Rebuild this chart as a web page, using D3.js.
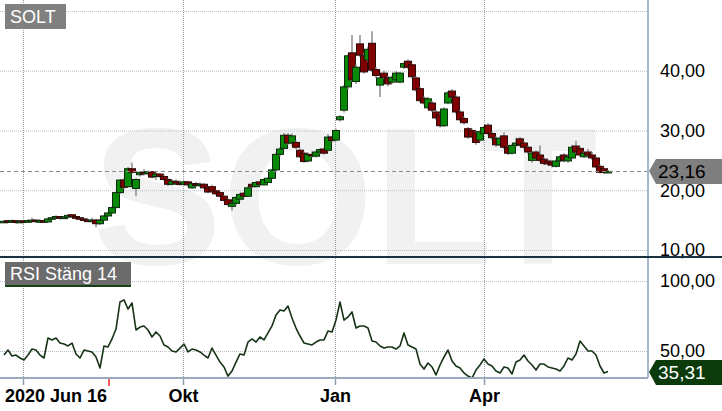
<!DOCTYPE html>
<html><head><meta charset="utf-8">
<script src="https://cdn.jsdelivr.net/npm/d3@7"></script>
<style>
html,body{margin:0;padding:0;background:#fff;}
svg{display:block;font-family:"Liberation Sans",Arial,sans-serif;}
</style></head><body>
<svg id="c" width="722" height="411"></svg>
<script>
// ---- data ----
const opens = [14.6,14.9,14.7,14.9,14.6,14.9,14.7,14.8,15.0,14.8,
14.9,14.7,15.2,15.4,15.6,15.3,15.5,15.9,15.6,15.4,
15.2,15.0,14.9,15.0,14.4,15.0,15.7,16.2,17.1,19.6,
21.7,20.6,23.6,20.3,22.6,23.0,22.8,23.1,22.3,22.7,
22.3,21.8,21.0,21.5,21.2,21.0,21.4,20.4,21.1,20.8,
21.0,20.4,20.6,19.9,19.6,19.0,18.4,17.3,17.8,18.5,
19.5,19.0,21.0,20.6,21.4,20.9,21.3,22.0,23.4,26.0,
27.0,29.2,27.9,28.0,26.7,26.2,24.9,26.0,25.7,26.4,
26.9,26.7,28.9,28.4,31.8,33.4,37.3,43.0,38.2,44.5,
42.5,41.8,44.6,40.2,37.6,39.6,38.8,38.1,38.5,38.1,
40.6,41.6,41.0,38.8,37.0,35.4,33.8,34.6,33.1,32.6,
30.8,34.6,36.6,35.6,33.1,32.0,30.3,30.0,29.6,28.4,
29.5,30.9,29.5,28.7,27.6,29.1,27.2,26.2,27.5,28.6,
27.9,27.2,25.0,26.4,25.9,25.2,24.9,24.7,24.0,24.9,
25.9,24.9,25.4,27.4,27.0,25.6,26.4,25.9,25.4,24.0,
23.6,22.9];
const highs = [15.0,15.0,15.1,15.0,15.0,15.0,15.1,15.4,15.1,15.1,
15.1,15.5,15.6,15.8,15.7,15.7,16.0,16.0,15.7,15.5,
15.4,15.2,15.4,15.2,15.2,15.9,16.3,17.3,19.8,21.9,
22.0,23.9,24.6,22.0,23.2,23.5,23.3,23.2,23.0,22.9,
22.6,22.0,21.8,21.8,21.6,21.6,21.6,21.2,21.4,21.3,
21.2,20.6,20.9,20.1,19.8,19.2,18.6,18.0,19.0,19.6,
19.7,20.7,21.3,21.5,21.6,22.0,22.2,23.6,26.3,27.2,
29.6,29.6,29.5,28.3,27.0,26.5,26.3,26.5,26.6,27.0,
27.1,29.4,29.0,30.3,32.6,37.6,42.8,46.0,41.0,46.0,
43.0,44.0,46.6,40.6,39.2,40.0,39.2,39.2,39.9,39.8,
41.5,41.9,41.2,39.1,37.3,35.7,35.6,35.0,33.4,32.9,
33.9,36.6,36.9,35.9,33.4,32.3,30.6,30.3,29.9,30.0,
30.8,31.2,29.8,29.0,29.0,29.7,27.5,27.8,28.8,28.9,
28.2,27.5,26.5,26.7,27.5,25.5,25.2,25.0,25.2,25.9,
26.2,25.9,27.6,28.3,27.3,26.5,26.9,26.4,25.7,24.3,
23.8,23.4];
const lows = [14.5,14.5,14.6,14.4,14.5,14.5,14.6,14.7,14.6,14.6,
14.5,14.6,15.0,15.2,15.1,15.2,15.4,15.4,15.1,15.0,
14.8,14.7,14.8,13.8,14.2,14.9,15.6,16.0,17.0,19.4,
20.2,20.5,22.8,19.0,22.3,22.5,22.5,22.0,21.7,22.0,
21.6,20.7,20.8,21.0,20.8,20.8,20.6,20.2,20.6,20.5,
20.2,19.5,19.6,19.2,18.9,18.1,17.4,16.6,17.5,18.3,
18.8,18.9,20.4,20.5,20.8,20.8,21.2,21.9,23.3,25.7,
26.8,27.6,27.6,26.9,25.4,24.6,24.7,25.5,25.5,26.1,
26.0,26.5,28.1,28.2,31.5,33.0,36.9,38.2,37.8,42.3,
39.5,41.5,39.8,38.8,35.6,38.6,37.4,37.8,38.2,37.9,
40.3,40.3,38.7,36.5,34.7,34.3,33.5,33.1,31.8,30.5,
30.6,34.4,35.3,32.8,31.5,31.0,28.6,28.7,27.6,28.1,
29.3,29.2,28.4,27.3,27.4,26.9,25.9,26.0,27.3,27.3,
26.9,26.1,24.6,25.1,24.7,24.2,24.1,23.8,23.8,24.7,
24.7,24.6,25.2,26.1,25.6,25.4,25.6,25.1,23.6,22.8,
22.7,22.8];
const closes = [14.8,14.7,14.9,14.6,14.8,14.7,14.9,15.0,14.8,14.9,
14.7,15.2,15.4,15.6,15.3,15.5,15.8,15.6,15.3,15.2,
15.0,14.9,15.0,14.4,15.0,15.7,16.2,17.1,19.6,21.7,
20.5,23.6,23.0,21.8,23.0,22.8,23.1,22.2,22.7,22.3,
21.8,21.0,21.5,21.2,21.0,21.4,20.9,21.1,20.8,21.0,
20.4,19.7,19.9,19.4,19.0,18.3,17.6,17.8,18.8,19.3,
19.0,20.4,20.6,21.3,21.0,21.8,22.0,23.4,26.0,26.9,
29.2,27.9,29.1,27.2,25.6,24.8,26.0,25.8,26.4,26.8,
26.2,28.9,28.3,30.0,32.3,37.3,42.5,38.5,40.6,42.6,
39.8,43.6,40.1,39.2,38.8,38.9,37.8,38.9,39.6,39.6,
41.2,40.6,39.0,36.8,35.0,34.6,35.3,33.4,32.1,30.8,
33.6,36.3,35.6,33.1,31.8,31.3,28.9,29.0,28.0,29.8,
30.5,29.5,28.8,27.6,28.7,27.2,26.2,27.5,27.9,27.6,
27.2,26.4,26.2,25.4,25.0,24.5,24.4,24.2,24.9,25.6,
25.0,25.6,27.2,26.4,25.9,26.2,25.9,25.4,23.9,23.0,
23.0,23.16];
const rsiValues = [47.1,50.7,46.4,47.1,45,43.6,47.1,51.4,50.7,47.1,
45,59.3,57.9,59.3,55.7,55,53.6,55.7,47.9,45,
50.7,50,49.3,45.7,37.9,53.6,52.9,58.6,65.7,85,
86.5,80,84.3,65,67.1,67.9,65,60,63.6,60.7,
54.3,52.9,50,49.3,52.1,55,49.3,51.4,50.7,49.3,
47.1,45,52.1,47.1,42.1,38.6,32.1,35.7,42.1,47.9,
47.1,56.4,58.6,56.4,60,57.9,62.9,67.9,75.7,79.3,
78.6,82.1,73.6,66.4,60.7,55.7,55,54.3,56.4,57.9,
57.9,64.3,63.6,72.1,85,72,74.3,77.9,66.4,67.9,
67.9,66.4,57.1,56.4,53.6,52.1,52.9,52.9,51.4,53.6,
62.9,54.3,52.9,51.4,40.7,37.1,41.4,38.6,32.9,40,
45.7,50.7,42.9,39.3,37.9,34.3,32.1,30.7,36.4,40,
44.3,40.7,39.3,35.7,34.3,38.6,37.9,33.6,42.1,43.6,
47.1,42.9,40,36.4,40.7,40.7,38.6,37.9,37.1,35.7,
39.3,45,43.6,47.9,57.1,53.6,50,50,47.1,39.3,
34.3,35.31];
const priceTicks = [10,20,30,40];
const priceGrid = [10,20,30,40,50];
const rsiTicks = [50,100];
const monthTickIndex = [4.75,44.75,82.75,120];
const monthLabels = ["","Okt","Jan","Apr"];
const startLabel = "2020 Jun 16";
const markerIndex = 26.25;
const symbol = "SOLT";
const rsiTitle = "RSI Stäng 14";
const lastPrice = 23.16;
const lastRsi = 35.31;

// ---- drawing ----
const svg = d3.select("#c");
const W = 722, plotR = 648, sepY = 257, axisY = 378;
const N = Math.min(opens.length, highs.length, lows.length, closes.length);
const x = d3.scaleLinear().domain([0, N-1]).range([4, 608]);
const yP = d3.scaleLinear().domain([10, 50]).range([250, 11]);
const yR = d3.scaleLinear().domain([50, 100]).range([351, 281]);
const loc = d3.formatLocale({decimal:",", thousands:" ", grouping:[3], currency:["",""]});
const fmt = loc.format(".2f");

// watermark
svg.append("text").attr("x",92).attr("y",264)
  .attr("font-size",195).attr("font-weight","bold").attr("fill","#f1f1f1")
  .text(symbol);

// horizontal gridlines
svg.append("g").selectAll("line").data(priceGrid).join("line")
  .attr("x1",0).attr("x2",plotR).attr("y1",d=>yP(d)+0.5).attr("y2",d=>yP(d)+0.5)
  .attr("stroke","#b7c0c8").attr("stroke-dasharray","1,1");
svg.append("g").selectAll("line").data(rsiTicks).join("line")
  .attr("x1",0).attr("x2",plotR).attr("y1",d=>yR(d)+0.5).attr("y2",d=>yR(d)+0.5)
  .attr("stroke","#b7c0c8").attr("stroke-dasharray","1,1");
// vertical gridlines
svg.append("g").selectAll("line").data(monthTickIndex).join("line")
  .attr("x1",d=>Math.round(x(d))+0.5).attr("x2",d=>Math.round(x(d))+0.5)
  .attr("y1",0).attr("y2",axisY)
  .attr("stroke","#8e9ba8").attr("stroke-dasharray","1,1");

// candles
const cg = svg.append("g");
for (let i=0;i<N;i++){
  const cx = x(i);
  const g = cg.append("g");
  g.append("line").attr("x1",cx).attr("x2",cx)
    .attr("y1",yP(highs[i])).attr("y2",yP(lows[i]))
    .attr("stroke","#8c8c8c").attr("stroke-width",1.5);
  const up = closes[i] >= opens[i];
  const top = yP(Math.max(opens[i],closes[i]));
  const h = Math.max(1.5, Math.abs(yP(opens[i]) - yP(closes[i])));
  g.append("rect").attr("x",cx-3.5).attr("y",top).attr("width",7).attr("height",h)
    .attr("fill", up ? "#088a08" : "#800000")
    .attr("stroke", up ? "#0c2a0c" : "#2a0a0a").attr("stroke-width",1);
}

// current price dashed line
svg.append("line").attr("x1",0).attr("x2",plotR)
  .attr("y1",Math.round(yP(lastPrice))+0.5).attr("y2",Math.round(yP(lastPrice))+0.5)
  .attr("stroke","#8a8a8a").attr("stroke-dasharray","4,3");

// RSI line
svg.append("path").datum(rsiValues.slice(0,N))
  .attr("d", d3.line().x((d,i)=>x(i)).y(d=>yR(d)))
  .attr("fill","none").attr("stroke","#163316").attr("stroke-width",1.6)
  .attr("stroke-linejoin","round");

// right axes
const axP = svg.append("g").attr("transform",`translate(${plotR},0)`)
  .call(d3.axisRight(yP).tickValues(priceTicks).tickSize(0).tickPadding(12).tickFormat(fmt));
const axR = svg.append("g").attr("transform",`translate(${plotR},0)`)
  .call(d3.axisRight(yR).tickValues(rsiTicks).tickSize(0).tickPadding(12).tickFormat(fmt));
[axP, axR].forEach(a=>{
  a.select(".domain").remove();
  a.selectAll("text").attr("font-size",18).attr("fill","#000")
    .attr("font-family","'Liberation Sans',Arial,sans-serif");
});

// vertical axis line
svg.append("line").attr("x1",plotR).attr("x2",plotR).attr("y1",0).attr("y2",axisY)
  .attr("stroke","#a7b6c8").attr("stroke-width",2);
// panel separator
svg.append("line").attr("x1",0).attr("x2",W).attr("y1",sepY).attr("y2",sepY)
  .attr("stroke","#173340").attr("stroke-width",2);

// bottom axis
const axB = svg.append("g").attr("transform",`translate(0,${axisY})`)
  .call(d3.axisBottom(x).tickValues(monthTickIndex).tickSize(7).tickPadding(4)
     .tickFormat((d,i)=>monthLabels[i]));
axB.select(".domain").remove();
axB.selectAll(".tick line").attr("stroke","#8e9ba8").attr("stroke-width",1.5);
axB.selectAll(".tick text").attr("font-size",18).attr("font-weight","bold").attr("fill","#000")
  .attr("font-family","'Liberation Sans',Arial,sans-serif");
svg.append("line").attr("x1",0).attr("x2",plotR).attr("y1",axisY).attr("y2",axisY)
  .attr("stroke","#9aabbf").attr("stroke-width",2);
svg.append("line").attr("x1",x(markerIndex)).attr("x2",x(markerIndex))
  .attr("y1",axisY+1).attr("y2",axisY+8).attr("stroke","#ff5a5a").attr("stroke-width",2);
svg.append("text").attr("x",5).attr("y",402).attr("font-size",18).attr("font-weight","bold")
  .attr("fill","#000").text(startLabel);

// last price label
function tag(yv, fill, txtColor, label){
  const yc = Math.round(yv);
  svg.append("path")
    .attr("d",`M649,${yc} L656,${yc-12} L${W},${yc-12} L${W},${yc+13} L656,${yc+13} Z`)
    .attr("fill",fill);
  svg.append("text").attr("x",658).attr("y",yc).attr("dy","0.36em")
    .attr("font-size",19).attr("fill",txtColor).text(label);
}
tag(yP(lastPrice), "#7f7f7f", "#000", fmt(lastPrice));
tag(yR(lastRsi), "#0b3a0b", "#fff", fmt(lastRsi));

// title boxes
svg.append("rect").attr("x",5).attr("y",4).attr("width",61).attr("height",25).attr("fill","#808080");
svg.append("text").attr("x",10).attr("y",23).attr("font-size",18).attr("fill","#fff").text(symbol);
svg.append("rect").attr("x",5).attr("y",262).attr("width",126).attr("height",23).attr("fill","#6b6b6b");
svg.append("rect").attr("x",5).attr("y",285).attr("width",126).attr("height",2).attr("fill","#173f17");
svg.append("text").attr("x",10).attr("y",280).attr("font-size",18).attr("fill","#fff").text(rsiTitle);
</script>
</body></html>
